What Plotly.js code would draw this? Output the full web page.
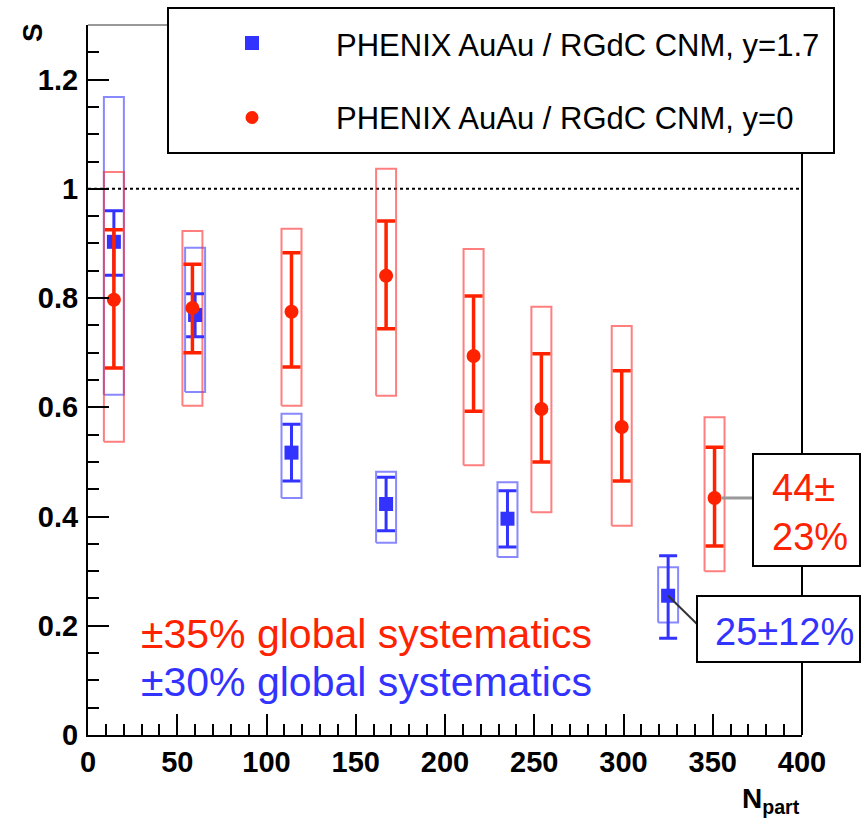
<!DOCTYPE html>
<html>
<head>
<meta charset="utf-8">
<script src="https://cdn.plot.ly/plotly-3.0.1.min.js"></script>
<style>html,body{margin:0;padding:0;background:#fff;}#chart{width:867px;height:821px;}</style>
</head>
<body>
<div id="chart"></div>
<script>
// ---- data ----
const blueN      = [14.5, 60, 114, 167, 235, 325];
const blueS      = [0.903, 0.769, 0.517, 0.423, 0.396, 0.255];
const blueStatHi = [0.960, 0.808, 0.569, 0.472, 0.447, 0.328];
const blueStatLo = [0.842, 0.729, 0.465, 0.374, 0.344, 0.177];
const blueSysHi  = [1.168, 0.892, 0.588, 0.482, 0.463, 0.307];
const blueSysLo  = [0.623, 0.628, 0.434, 0.352, 0.326, 0.206];

const redN      = [14.5, 58.5, 114, 167, 216, 254, 299, 351];
const redS      = [0.797, 0.782, 0.775, 0.841, 0.694, 0.597, 0.564, 0.434];
const redStatHi = [0.925, 0.862, 0.883, 0.941, 0.804, 0.698, 0.667, 0.527];
const redStatLo = [0.672, 0.700, 0.674, 0.744, 0.593, 0.500, 0.465, 0.346];
const redSysHi  = [1.031, 0.923, 0.927, 1.037, 0.890, 0.784, 0.749, 0.582];
const redSysLo  = [0.537, 0.603, 0.603, 0.621, 0.494, 0.408, 0.383, 0.300];

const legendLabels = ["PHENIX AuAu / RGdC CNM, y=1.7", "PHENIX AuAu / RGdC CNM, y=0"];
const globalTexts  = ["±35% global systematics", "±30% global systematics"];
const boxTexts     = ["44±<br>23%", "25±12%"];
const xTitle = "N<sub>part</sub>";
const yTitle = "S";
const xRange = [0, 400];
const yRange = [0, 1.3];

// ---- styling ----
const RED = "#ff2200", BLUE = "#3333ff";
const RED_BOX = "rgba(255,40,40,0.6)", BLUE_BOX = "rgba(40,40,255,0.55)";
const FONT = "Liberation Sans, Arial, Helvetica, sans-serif";
const HALF_W = 5.6; // half-width of systematic boxes in N units

// plot-area pixel frame
const L = 88, R = 802, T = 25, B = 735;
const pX = p => (p - L) / (R - L);
const pY = p => (B - p) / (B - T);
const dX = v => (v - xRange[0]) / (xRange[1] - xRange[0]);
const dY = v => (v - yRange[0]) / (yRange[1] - yRange[0]);

function boxPath(N, lo, hi) {
  const xs = [], ys = [];
  N.forEach((n, i) => {
    xs.push(n - HALF_W, n + HALF_W, n + HALF_W, n - HALF_W, n - HALF_W, null);
    ys.push(lo[i], lo[i], hi[i], hi[i], lo[i], null);
  });
  return {xs, ys};
}
const bb = boxPath(blueN, blueSysLo, blueSysHi);
const rb = boxPath(redN, redSysLo, redSysHi);

const traces = [
  {x: bb.xs, y: bb.ys, mode: "lines", line: {color: BLUE_BOX, width: 2}, hoverinfo: "skip", showlegend: false},
  {x: rb.xs, y: rb.ys, mode: "lines", line: {color: RED_BOX, width: 2}, hoverinfo: "skip", showlegend: false},
  {x: blueN, y: blueS, mode: "markers", showlegend: false,
   marker: {symbol: "square", size: 14, color: BLUE},
   error_y: {type: "data", symmetric: false,
     array: blueStatHi.map((h, i) => h - blueS[i]),
     arrayminus: blueStatLo.map((l, i) => blueS[i] - l),
     color: BLUE, thickness: 3, width: 9}},
  {x: redN, y: redS, mode: "markers", showlegend: false,
   marker: {symbol: "circle", size: 14, color: RED},
   error_y: {type: "data", symmetric: false,
     array: redStatHi.map((h, i) => h - redS[i]),
     arrayminus: redStatLo.map((l, i) => redS[i] - l),
     color: RED, thickness: 3.5, width: 9}}
];

const lastR = redN.length - 1, lastB = blueN.length - 1;
const shapes = [
  // dotted reference line at S = 1
  {type: "line", xref: "x", yref: "y", x0: xRange[0], x1: xRange[1], y0: 1, y1: 1,
   line: {color: "black", width: 2, dash: "dot"}, layer: "below"},
  // frame: top (gray) and right
  {type: "line", xref: "paper", yref: "paper", x0: 0, x1: 1, y0: 1, y1: 1, line: {color: "#999", width: 2}},
  {type: "line", xref: "paper", yref: "paper", x0: 1, x1: 1, y0: 0, y1: 1, line: {color: "black", width: 2}},
  // connectors from last points to value boxes
  {type: "line", xref: "paper", yref: "paper", x0: dX(redN[lastR]) + 0.01, x1: pX(753),
   y0: dY(redS[lastR]), y1: dY(redS[lastR]), line: {color: "#999", width: 3}},
  {type: "line", xref: "paper", yref: "paper", x0: dX(blueN[lastB]), x1: pX(697),
   y0: dY(blueS[lastB]), y1: pY(624), line: {color: "#333", width: 2}},
  // value boxes
  {type: "rect", xref: "paper", yref: "paper", x0: pX(753), x1: pX(860), y0: pY(566), y1: pY(454),
   line: {color: "black", width: 2}, fillcolor: "white"},
  {type: "rect", xref: "paper", yref: "paper", x0: pX(697), x1: pX(860), y0: pY(662), y1: pY(596),
   line: {color: "black", width: 2}, fillcolor: "white"},
  // legend box
  {type: "rect", xref: "paper", yref: "paper", x0: pX(168), x1: pX(834), y0: pY(153), y1: pY(8),
   line: {color: "black", width: 2}, fillcolor: "white"},
  {type: "rect", xref: "paper", yref: "paper", x0: pX(245), x1: pX(259), y0: pY(50), y1: pY(36),
   line: {width: 0}, fillcolor: BLUE},
  {type: "circle", xref: "paper", yref: "paper", x0: pX(245.5), x1: pX(258.5), y0: pY(124), y1: pY(111),
   line: {width: 0}, fillcolor: RED}
];

const annotations = [
  {xref: "paper", yref: "paper", x: pX(334), y: pY(46), xanchor: "left", yanchor: "middle", showarrow: false,
   text: legendLabels[0], font: {family: FONT, size: 31, color: "black"}},
  {xref: "paper", yref: "paper", x: pX(334), y: pY(118), xanchor: "left", yanchor: "middle", showarrow: false,
   text: legendLabels[1], font: {family: FONT, size: 31, color: "black"}},
  {xref: "paper", yref: "paper", x: pX(139), y: pY(634), xanchor: "left", yanchor: "middle", showarrow: false,
   text: globalTexts[0], font: {family: FONT, size: 41, color: RED}},
  {xref: "paper", yref: "paper", x: pX(139), y: pY(682), xanchor: "left", yanchor: "middle", showarrow: false,
   text: globalTexts[1], font: {family: FONT, size: 41, color: BLUE}},
  {xref: "paper", yref: "paper", x: pX(770), y: pY(512), xanchor: "left", yanchor: "middle", showarrow: false,
   align: "left", text: boxTexts[0], font: {family: FONT, size: 38, color: RED}},
  {xref: "paper", yref: "paper", x: pX(713), y: pY(632), xanchor: "left", yanchor: "middle", showarrow: false,
   text: boxTexts[1], font: {family: FONT, size: 38, color: BLUE}},
  {xref: "paper", yref: "paper", x: pX(33), y: pY(33), xanchor: "center", yanchor: "middle", showarrow: false,
   textangle: -90, text: "<b>" + yTitle + "</b>", font: {family: FONT, size: 28, color: "black"}},
  {xref: "paper", yref: "paper", x: pX(740), y: pY(800), xanchor: "left", yanchor: "middle", showarrow: false,
   text: "<b>" + xTitle + "</b>", font: {family: FONT, size: 28, color: "black"}}
];

const axisCommon = {
  showgrid: false, zeroline: false, showline: true, linecolor: "black", linewidth: 2,
  ticks: "inside", tickcolor: "black", tickwidth: 2, ticklen: 21,
  tickfont: {family: FONT, size: 29, color: "black", weight: "bold"}
};

const layout = {
  width: 867, height: 821, autosize: false,
  margin: {l: L, r: 867 - R, t: T, b: 821 - B, pad: 0},
  paper_bgcolor: "white", plot_bgcolor: "white",
  showlegend: false,
  xaxis: Object.assign({}, axisCommon, {range: xRange, dtick: 50, tick0: 0,
    minor: {ticks: "inside", dtick: 10, ticklen: 11, tickcolor: "black", tickwidth: 2}}),
  yaxis: Object.assign({}, axisCommon, {range: yRange, dtick: 0.2, tick0: 0, ticklabelstandoff: 2,
    minor: {ticks: "inside", dtick: 0.05, ticklen: 11, tickcolor: "black", tickwidth: 2}}),
  shapes: shapes,
  annotations: annotations
};

Plotly.newPlot("chart", traces, layout, {staticPlot: true, displayModeBar: false});
</script>
</body>
</html>
